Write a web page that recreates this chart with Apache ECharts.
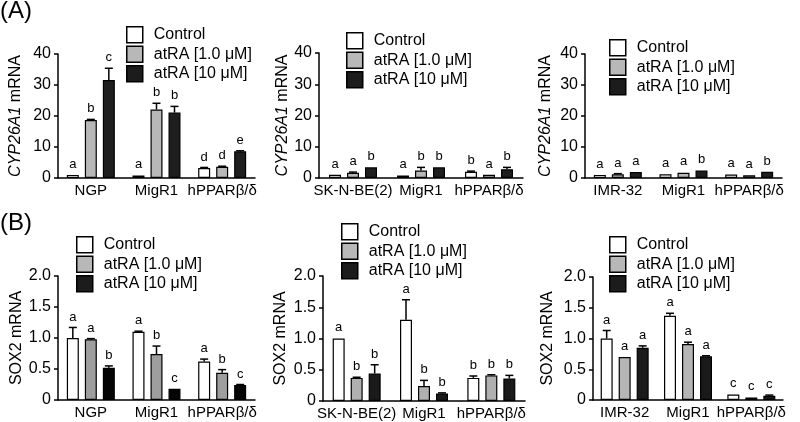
<!DOCTYPE html>
<html><head><meta charset="utf-8">
<script src="https://cdn.jsdelivr.net/npm/echarts@6/dist/echarts.min.js"></script>
<style>html,body{margin:0;padding:0;background:#fff}#c{width:800px;height:422px}</style>
</head><body><div id="c"></div>
<script>
const seriesNames = ['Control', 'atRA [1.0 μM]', 'atRA [10 μM]'];

// Panel A: CYP26A1 mRNA  (rows: Control, atRA 1.0, atRA 10)
const a1Categories = ['NGP', 'MigR1', 'hPPARβ/δ'];
const a1Values = [[1.0, 0.8, 3.2], [18.7, 22.1, 3.6], [31.6, 21.1, 8.6]];
const a1Errors = [[0.1, 0.1, 0.2], [0.2, 2.0, 0.2], [3.8, 2.0, 0.2]];
const a1Letters = [['a', 'a', 'd'], ['b', 'b', 'd'], ['c', 'b', 'e']];

const a2Categories = ['SK-N-BE(2)', 'MigR1', 'hPPARβ/δ'];
const a2Values = [[1.0, 0.8, 2.0], [1.7, 2.4, 1.0], [3.4, 3.4, 2.8]];
const a2Errors = [[0.1, 0.1, 0.2], [0.2, 1.0, 0.1], [0.1, 0.1, 0.6]];
const a2Letters = [['a', 'a', 'b'], ['a', 'b', 'a'], ['b', 'b', 'b']];

const a3Categories = ['IMR-32', 'MigR1', 'hPPARβ/δ'];
const a3Values = [[1.0, 1.2, 1.1], [1.2, 1.7, 0.9], [1.9, 2.4, 2.0]];
const a3Errors = [[0.1, 0.1, 0.1], [0.2, 0.1, 0.1], [0.1, 0.1, 0.1]];
const a3Letters = [['a', 'a', 'a'], ['a', 'a', 'a'], ['a', 'b', 'b']];

// Panel B: SOX2 mRNA
const b1Categories = ['NGP', 'MigR1', 'hPPARβ/δ'];
const b1Values = [[1.0, 1.1, 0.62], [0.98, 0.74, 0.44], [0.52, 0.18, 0.24]];
const b1Errors = [[0.17, 0.01, 0.04], [0.01, 0.13, 0.05], [0.03, 0.005, 0.01]];
const b1Letters = [['a', 'a', 'a'], ['a', 'b', 'b'], ['b', 'c', 'c']];

const b2Categories = ['SK-N-BE(2)', 'MigR1', 'hPPARβ/δ'];
const b2Values = [[1.0, 1.3, 0.37], [0.37, 0.24, 0.41], [0.44, 0.12, 0.36]];
const b2Errors = [[0.005, 0.32, 0.03], [0.01, 0.09, 0.01], [0.14, 0.01, 0.05]];
const b2Letters = [['a', 'a', 'b'], ['b', 'b', 'b'], ['b', 'b', 'b']];

const b3Categories = ['IMR-32', 'MigR1', 'hPPARβ/δ'];
const b3Values = [[1.0, 1.37, 0.09], [0.70, 0.91, 0.04], [0.85, 0.71, 0.07]];
const b3Errors = [[0.13, 0.04, 0.005], [0.005, 0.03, 0.005], [0.03, 0.01, 0.01]];
const b3Letters = [['a', 'a', 'c'], ['a', 'a', 'c'], ['a', 'a', 'c']];

const aTicks = [0, 10, 20, 30, 40];
const bTicks = [0, 0.5, 1.0, 1.5, 2.0];

const FONT = 'Liberation Sans, Arial, sans-serif';
const legendColors = ['#ffffff', '#b8b8b8', '#1c1c1c'];

const panels = [
  {cats: a1Categories, vals: a1Values, errs: a1Errors, letters: a1Letters, ticks: aTicks,
   grid: {left: 58, top: 54, width: 197, height: 124}, nameGap: 34, sox: false,
   legend: {left: 126, top: 26}, colors: ['#ffffff', '#b8b8b8', '#1e1e1e']},
  {cats: a2Categories, vals: a2Values, errs: a2Errors, letters: a2Letters, ticks: aTicks,
   grid: {left: 319, top: 53, width: 204, height: 125}, nameGap: 26, sox: false,
   legend: {left: 346, top: 32}, colors: ['#ffffff', '#b8b8b8', '#1e1e1e']},
  {cats: a3Categories, vals: a3Values, errs: a3Errors, letters: a3Letters, ticks: aTicks,
   grid: {left: 585, top: 54, width: 197, height: 124}, nameGap: 31, sox: false,
   legend: {left: 609, top: 39}, colors: ['#ffffff', '#b8b8b8', '#1e1e1e']},
  {cats: b1Categories, vals: b1Values, errs: b1Errors, letters: b1Letters, ticks: bTicks,
   grid: {left: 58, top: 276, width: 197, height: 124}, nameGap: 29, sox: true,
   legend: {left: 76, top: 236}, colors: ['#ffffff', '#9e9e9e', '#050505']},
  {cats: b2Categories, vals: b2Values, errs: b2Errors, letters: b2Letters, ticks: bTicks,
   grid: {left: 323, top: 276, width: 202, height: 125}, nameGap: 34, sox: true,
   legend: {left: 341, top: 223}, colors: ['#ffffff', '#b0b0b0', '#1a1a1a']},
  {cats: b3Categories, vals: b3Values, errs: b3Errors, letters: b3Letters, ticks: bTicks,
   grid: {left: 593, top: 277, width: 190, height: 123}, nameGap: 37, sox: true,
   legend: {left: 609, top: 236}, colors: ['#ffffff', '#b5b5b5', '#1a1a1a']}
];

const BAR_W = 12, BAR_STEP = 18;
const grids = [], xAxes = [], yAxes = [], series = [], legends = [];

panels.forEach((p, pi) => {
  grids.push(Object.assign({containLabel: false}, p.grid));
  xAxes.push({
    type: 'category', gridIndex: pi, data: p.cats,
    axisLine: {lineStyle: {color: '#000', width: 1.5}},
    axisTick: {show: false},
    axisLabel: {interval: 0, color: '#000', fontSize: 15, fontFamily: FONT, margin: 5}
  });
  const tmax = p.ticks[p.ticks.length - 1];
  const tint = p.ticks[1] - p.ticks[0];
  yAxes.push({
    type: 'value', gridIndex: pi, min: p.ticks[0], max: tmax, interval: tint,
    name: p.sox ? 'SOX2 mRNA' : '{i|CYP26A1} mRNA',
    nameLocation: 'middle', nameRotate: 90, nameGap: p.nameGap,
    nameTextStyle: {color: '#000', fontSize: 16, fontFamily: FONT,
      rich: {i: {fontStyle: 'italic', fontSize: 16, fontFamily: FONT, color: '#000'}}},
    axisLine: {show: true, lineStyle: {color: '#000', width: 1.5}},
    axisTick: {show: true, length: 4, lineStyle: {color: '#000', width: 1.5}},
    splitLine: {show: false},
    axisLabel: {color: '#000', fontSize: 16, fontFamily: FONT, margin: 7,
      formatter: v => (v === 0 ? '0' : (p.sox ? v.toFixed(1) : String(v)))}
  });
  for (let s = 0; s < 3; s++) {
    series.push({
      type: 'bar', name: seriesNames[s], xAxisIndex: pi, yAxisIndex: pi,
      data: p.vals[s], barWidth: BAR_W, barGap: '50%',
      itemStyle: {color: p.colors[s], borderColor: '#000', borderWidth: 1.2},
      emphasis: {disabled: true}, silent: true, animation: false
    });
  }
  for (let s = 0; s < 3; s++) {
    const offset = (s - 1) * BAR_STEP;
    const letters = p.letters[s];
    series.push({
      type: 'custom', xAxisIndex: pi, yAxisIndex: pi, silent: true, animation: false,
      data: p.vals[s].map((v, i) => [i, v, p.errs[s][i]]),
      renderItem: (params, api) => {
        const idx = api.value(0), v = api.value(1), e = api.value(2);
        const base = api.coord([idx, v]);
        const top = api.coord([idx, v + e]);
        const x = base[0] + offset;
        const children = [];
        if (e > 0 && base[1] - top[1] >= 0.5) {
          children.push({type: 'line', shape: {x1: x, y1: base[1], x2: x, y2: top[1]},
            style: {stroke: '#000', lineWidth: 1.5}});
          children.push({type: 'line', shape: {x1: x - 4, y1: top[1], x2: x + 4, y2: top[1]},
            style: {stroke: '#000', lineWidth: 1.5}});
        }
        children.push({type: 'text', x: x, y: top[1] - 4,
          style: {text: letters[params.dataIndex], fill: '#000', fontSize: 13,
            fontFamily: FONT, textAlign: 'center', textVerticalAlign: 'bottom'}});
        return {type: 'group', children: children};
      }
    });
  }
  legends.push({
    orient: 'vertical', left: p.legend.left, top: p.legend.top,
    itemWidth: 16, itemHeight: 16, itemGap: 2, padding: 0, selectedMode: false,
    icon: 'rect',
    data: seriesNames.map((n, i) => ({name: n, itemStyle: {color: legendColors[i], borderColor: '#000', borderWidth: 1.5}})),
    textStyle: {color: '#000', fontSize: 16, fontFamily: FONT, padding: [0, 0, 0, 6]}
  });
});

const chart = echarts.init(document.getElementById('c'), null, {renderer: 'canvas'});
chart.setOption({
  backgroundColor: '#fff',
  animation: false,
  title: [
    {text: '(A)', left: 0, top: -1, padding: 0, textStyle: {fontSize: 24, fontWeight: 'normal', color: '#000', fontFamily: FONT}},
    {text: '(B)', left: 0, top: 211, padding: 0, textStyle: {fontSize: 24, fontWeight: 'normal', color: '#000', fontFamily: FONT}}
  ],
  grid: grids, xAxis: xAxes, yAxis: yAxes, legend: legends, series: series
});
</script></body></html>
